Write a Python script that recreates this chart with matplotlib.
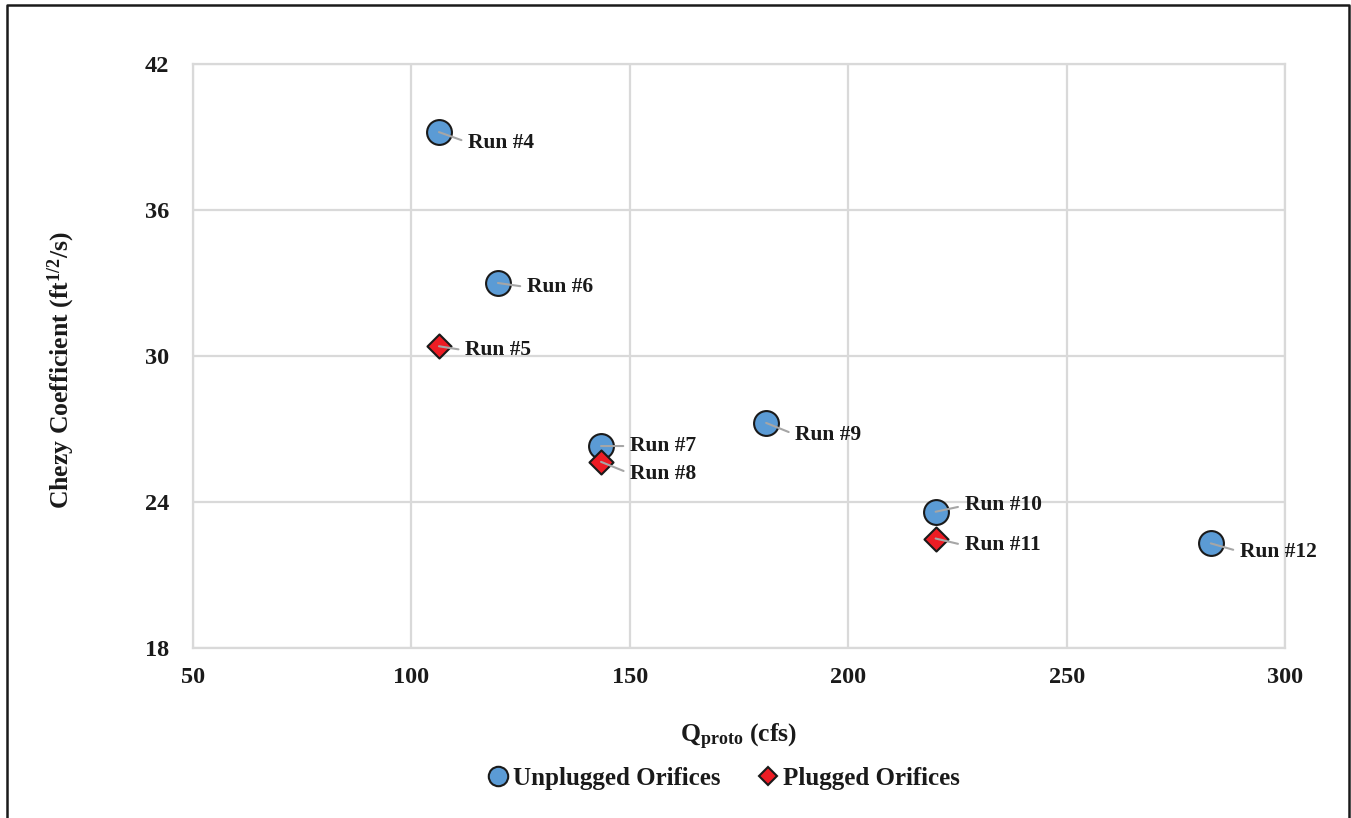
import matplotlib
matplotlib.use('Agg')
import matplotlib.pyplot as plt
from matplotlib.lines import Line2D

plt.rcParams['font.family'] = ['Liberation Serif', 'DejaVu Serif']
plt.rcParams['font.weight'] = 'bold'
plt.rcParams['axes.labelweight'] = 'bold'
plt.rcParams['mathtext.fontset'] = 'custom'
plt.rcParams['mathtext.rm'] = 'Liberation Serif:bold'
plt.rcParams['mathtext.it'] = 'Liberation Serif:bold'
plt.rcParams['mathtext.bf'] = 'Liberation Serif:bold'

# Chezy coefficient against prototype discharge
unplugged_runs = ['Run #4', 'Run #6', 'Run #7', 'Run #9', 'Run #10', 'Run #12']
unplugged_q = [106.3, 119.8, 143.4, 181.2, 220.0, 283.0]
unplugged_c = [39.2, 33.0, 26.3, 27.25, 23.6, 22.3]

plugged_runs = ['Run #5', 'Run #8', 'Run #11']
plugged_q = [106.3, 143.4, 220.0]
plugged_c = [30.4, 25.65, 22.5]

# label offsets in points (dx, dy) from the marker
unplugged_offsets = [(21, -7.5), (21, -3), (21, 0), (21, -8.5), (21, 4.5), (21, -6)]
plugged_offsets = [(19, -3), (21, -8.5), (21, -5)]

text_color = '#1a1a1a'
grid_color = '#d9d9d9'

fig = plt.figure(figsize=(13.51, 8.18), dpi=100)
ax = fig.add_axes([0.1429, 0.2078, 0.8083, 0.714])

ax.scatter(unplugged_q, unplugged_c, s=320, marker='o', color='#5b9bd5',
           edgecolor='#1a1a1a', linewidth=1.5, zorder=2, label='Unplugged Orifices')
ax.scatter(plugged_q, plugged_c, s=150, marker='D', color='#ed1c24',
           edgecolor='#1a1a1a', linewidth=1.5, zorder=2, label='Plugged Orifices')

def label_points(xs, ys, names, offsets):
    for x, y, name, (dx, dy) in zip(xs, ys, names, offsets):
        ax.annotate(name, xy=(x, y), xytext=(dx, dy), textcoords='offset points',
                    ha='left', va='center', fontsize=15.5, fontweight='bold',
                    color=text_color, zorder=4,
                    arrowprops=dict(arrowstyle='-', color='#a6a6a6', lw=1.5,
                                    shrinkA=3, shrinkB=0, relpos=(0, 0.5)))

label_points(unplugged_q, unplugged_c, unplugged_runs, unplugged_offsets)
label_points(plugged_q, plugged_c, plugged_runs, plugged_offsets)

ax.set_xlim(50, 300)
ax.set_ylim(18, 42)
ax.set_xticks([50, 100, 150, 200, 250, 300])
ax.set_yticks([18, 24, 30, 36, 42])
ax.grid(True, color=grid_color, linewidth=1.6, zorder=0)
ax.set_axisbelow(True)
for spine in ax.spines.values():
    spine.set_color(grid_color)
    spine.set_linewidth(1.6)
ax.tick_params(axis='both', length=0, labelsize=17.5, labelcolor=text_color)
ax.tick_params(axis='y', pad=17)
ax.tick_params(axis='x', pad=14)

ax.set_xlabel(r'Q$_{\mathrm{proto}}$ (cfs)', fontsize=18.5, fontweight='bold',
              color=text_color, labelpad=24)
ax.set_ylabel(r'Chezy Coefficient (ft$^{1/2}$/s)', fontsize=18.5, fontweight='bold',
              color=text_color, labelpad=49)
ax.yaxis.label.set_y(0.476)

handles = [
    Line2D([], [], linestyle='none', marker='o', markersize=14, markerfacecolor='#5b9bd5',
           markeredgecolor='#1a1a1a', markeredgewidth=1.5),
    Line2D([], [], linestyle='none', marker='D', markersize=9.5, markerfacecolor='#ed1c24',
           markeredgecolor='#1a1a1a', markeredgewidth=1.5),
]
fig.legend(handles, ['Unplugged Orifices', 'Plugged Orifices'], loc='center',
           bbox_to_anchor=(0.534, 0.048), ncol=2, frameon=False, fontsize=18,
           handletextpad=0.0, columnspacing=1.3, handlelength=1.2,
           labelcolor=text_color)

# outer frame, open at the bottom
fig.add_artist(Line2D([7 / 1351, 7 / 1351, 1349 / 1351, 1349 / 1351],
                      [0, 1 - 5 / 818, 1 - 5 / 818, 0],
                      transform=fig.transFigure, color='#1a1a1a', linewidth=1.8))

fig.savefig('out.png', dpi=100)
